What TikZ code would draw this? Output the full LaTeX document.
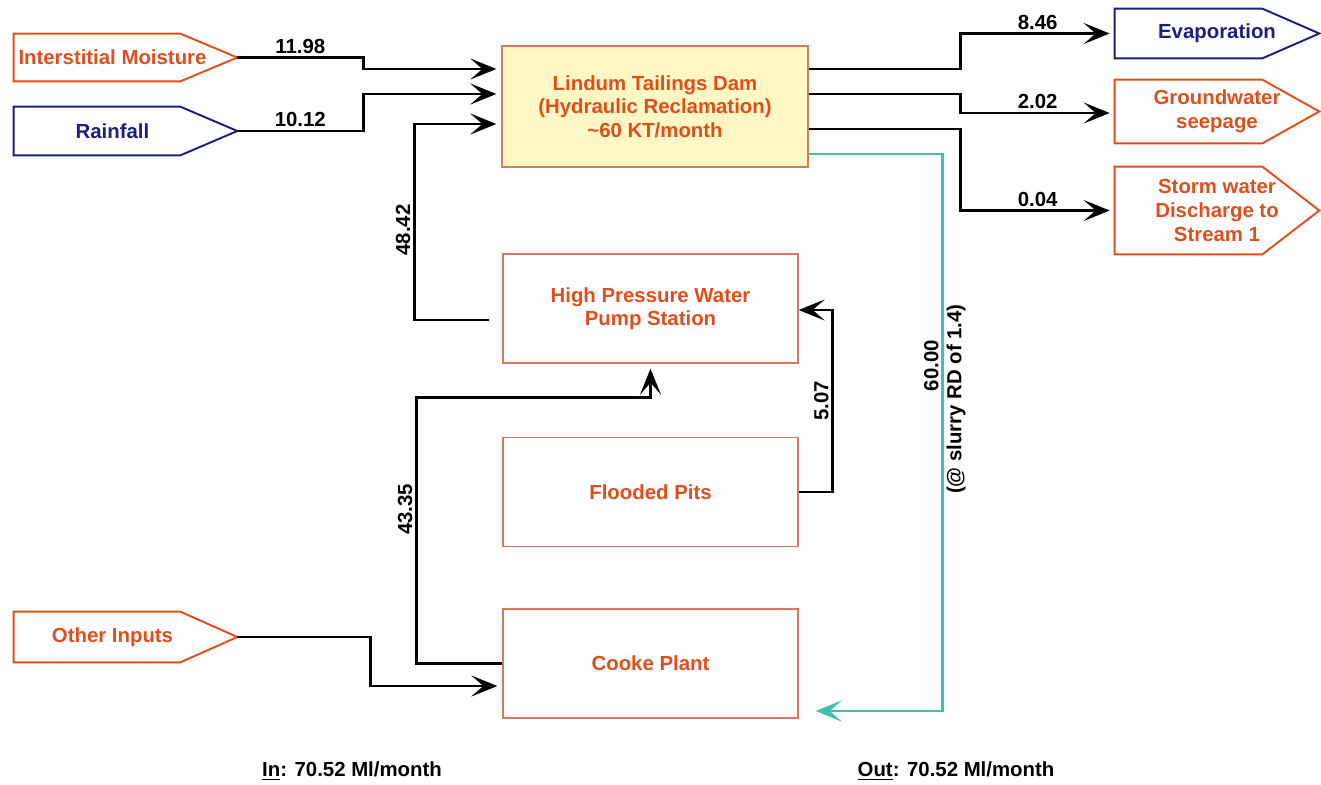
\documentclass[tikz,border=0pt]{standalone}
\usepackage{fontspec}
\setmainfont{Liberation Sans}
\usetikzlibrary{arrows.meta,positioning}
\definecolor{orng}{HTML}{E04E1E}
\definecolor{boxln}{HTML}{D9785F}
\definecolor{navy}{HTML}{1C1F7E}
\definecolor{slurry}{HTML}{3CC2B2}
\definecolor{damfill}{HTML}{FFF7C4}

\begin{document}
\begin{tikzpicture}[x=0.02cm,y=-0.02cm,font=\fontsize{11.6}{13.4}\selectfont\bfseries,
    unit/.style={draw=boxln,line width=0.8pt,text=orng,align=center,minimum width=5.9cm,minimum height=2.18cm,inner sep=0pt},
    tag/.style={text=#1,align=center,inner sep=0pt},
    srcs/.style={tag=#1,minimum width=4.46cm,execute at end node=\hspace*{0.52cm}},
    flow/.style={-{Stealth[length=0.52cm,width=0.42cm,inset=0.24cm]},line width=1.6pt,shorten >=0.1cm},
    lbl/.style={inner sep=1.5pt}]
  \useasboundingbox (0,0) rectangle (1321,784);
  % sources and sinks
  \node[srcs=orng,minimum height=0.94cm] (im) at (125.5,57.5) {Interstitial Moisture};
  \node[srcs=navy,minimum height=0.96cm] (rf) at (125.5,131) {Rainfall};
  \node[srcs=orng,minimum height=1.0cm] (oi) at (125.5,637) {Other Inputs};
  \node[tag=navy,minimum width=4.08cm,minimum height=0.98cm] (ev) at (1217,33.5) {Evaporation};
  \node[tag=orng,minimum width=4.08cm,minimum height=1.26cm] (gw) at (1217,111.5) {Groundwater\\seepage};
  \node[tag=orng,minimum width=4.08cm,minimum height=1.74cm] (sw) at (1217,210.5) {Storm water\\Discharge to\\Stream 1};
  \foreach \n/\c in {im/orng,rf/navy,oi/orng,ev/navy,gw/orng,sw/orng}{\draw[\c,line width=1.1pt] (\n.north west) -- ([xshift=-1.14cm]\n.north east) -- (\n.east) -- ([xshift=-1.14cm]\n.south east) -- (\n.south west) -- cycle;}
  % plant units
  \node[unit,fill=damfill,minimum width=6.12cm,minimum height=2.42cm] (dam) at (655,106.5) {Lindum Tailings Dam\\(Hydraulic Reclamation)\\\textasciitilde60 KT/month};
  \node[unit] (hp) at (650.5,308.5) {High Pressure Water\\Pump Station};
  \node[unit] (fp) at (650.5,492) {Flooded Pits};
  \node[unit] (cp) at (650.5,663.5) {Cooke Plant};
  % flows
  \draw[flow] (im.east) -- node[lbl,above]{11.98} ++(126,0) |- (dam.west |- 0,69);
  \draw[flow] (rf.east) -- node[lbl,above]{10.12} ++(126,0) |- (dam.west |- 0,94);
  \draw[flow] ([xshift=-0.26cm,yshift=-0.23cm]hp.west) -- ++(-75,0) |- node[pos=0.23,lbl,rotate=90,anchor=south]{48.42} (dam.west |- 0,124);
  \draw[flow] (dam.east |- 0,69) -- ++(152,0) |- node[pos=0.75,lbl,above]{8.46} (ev.west);
  \draw[flow] (dam.east |- 0,94) -- ++(152,0) |- node[pos=0.75,lbl,above]{2.02} (gw.west |- 0,113);
  \draw[flow] (dam.east |- 0,129) -- ++(152,0) |- node[pos=0.75,lbl,above]{0.04} (sw.west);
  \draw[flow,slurry,shorten >=0.34cm] (dam.east |- 0,154) -- ++(134,0) |- node[pos=0.19,lbl,rotate=90,anchor=south,text=black]{60.00} node[pos=0.22,lbl,rotate=90,anchor=north,text=black]{(@ slurry RD of 1.4)} (cp.east |- 0,711);
  \draw[flow,shorten >=0pt] (fp.east) -- ++(34,0) |- node[pos=0.25,lbl,rotate=90,anchor=south]{5.07} (hp.east |- 0,310);
  \draw[flow] (cp.west) -- ++(-86,0) |- node[pos=0.29,lbl,rotate=90,anchor=south]{43.35} ([yshift=-0.68cm]hp.south) -- (hp.south);
  \draw[flow] (oi.east) -- ++(133,0) |- (cp.west |- 0,686);
  % totals
  \node (tin) at (352,771) {\underline{In}: 70.52 Ml/month};
  \node (tout) at (956,771) {\underline{Out}: 70.52 Ml/month};
\end{tikzpicture}
\end{document}
